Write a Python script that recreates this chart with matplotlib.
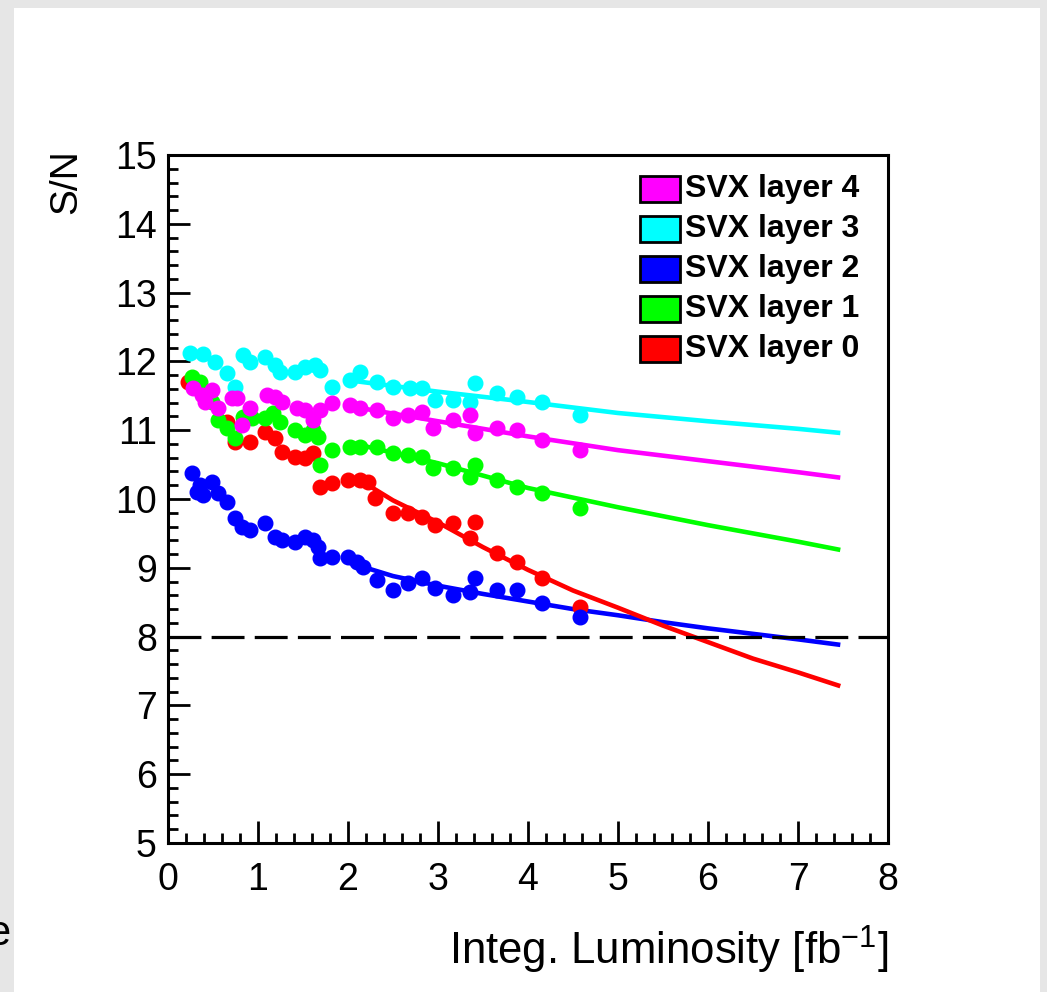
import matplotlib
matplotlib.use("Agg")
import matplotlib.pyplot as plt
from matplotlib.patches import Rectangle
from matplotlib.ticker import MultipleLocator

plt.rcParams['font.family'] = ['Liberation Sans', 'DejaVu Sans']

# ---- data ----
labels = ["SVX layer 4", "SVX layer 3", "SVX layer 2", "SVX layer 1", "SVX layer 0"]
colors = ["#ff00ff", "#00ffff", "#0000ff", "#00ff00", "#ff0000"]

l4_x = [0.28, 0.38, 0.41, 0.49, 0.56, 0.71, 0.77, 0.82, 0.91, 1.10, 1.19, 1.27, 1.43, 1.52, 1.61, 1.69,
        1.82, 2.02, 2.13, 2.32, 2.50, 2.67, 2.82, 2.94, 3.17, 3.36, 3.41, 3.66, 3.88, 4.16, 4.58]
l4_y = [11.61, 11.51, 11.41, 11.58, 11.32, 11.47, 11.47, 11.08, 11.32, 11.51, 11.48, 11.41, 11.32, 11.29,
        11.15, 11.29, 11.40, 11.37, 11.32, 11.29, 11.18, 11.22, 11.26, 11.03, 11.15, 11.22, 10.96, 11.03,
        11.00, 10.86, 10.71]

l3_x = [0.24, 0.39, 0.52, 0.66, 0.74, 0.83, 0.91, 1.08, 1.19, 1.24, 1.41, 1.52, 1.63, 1.69, 1.82, 2.02,
        2.13, 2.32, 2.50, 2.69, 2.82, 2.97, 3.17, 3.36, 3.41, 3.66, 3.88, 4.16, 4.58]
l3_y = [12.12, 12.11, 11.99, 11.83, 11.63, 12.09, 11.99, 12.06, 11.95, 11.85, 11.85, 11.92, 11.95, 11.87,
        11.63, 11.73, 11.85, 11.70, 11.63, 11.61, 11.61, 11.44, 11.44, 11.41, 11.69, 11.54, 11.48, 11.41,
        11.22]

l2_x = [0.27, 0.32, 0.36, 0.39, 0.49, 0.56, 0.66, 0.74, 0.82, 0.91, 1.08, 1.19, 1.27, 1.41, 1.52, 1.61,
        1.67, 1.69, 1.82, 2.00, 2.10, 2.17, 2.32, 2.50, 2.67, 2.82, 2.97, 3.17, 3.36, 3.41, 3.66, 3.88,
        4.16, 4.58]
l2_y = [10.38, 10.10, 10.20, 10.06, 10.25, 10.09, 9.96, 9.72, 9.59, 9.55, 9.65, 9.45, 9.40, 9.38, 9.45,
        9.40, 9.30, 9.14, 9.16, 9.16, 9.08, 9.01, 8.82, 8.68, 8.78, 8.85, 8.71, 8.60, 8.65, 8.85, 8.68,
        8.68, 8.49, 8.28]

l1_x = [0.27, 0.36, 0.49, 0.56, 0.66, 0.74, 0.83, 0.93, 1.08, 1.17, 1.24, 1.41, 1.52, 1.61, 1.67, 1.69,
        1.82, 2.02, 2.13, 2.32, 2.50, 2.67, 2.82, 2.94, 3.17, 3.36, 3.41, 3.66, 3.88, 4.16, 4.58]
l1_y = [11.77, 11.70, 11.41, 11.15, 11.03, 10.89, 11.19, 11.18, 11.18, 11.25, 11.12, 11.00, 10.93, 11.00,
        10.90, 10.49, 10.71, 10.76, 10.76, 10.76, 10.67, 10.64, 10.61, 10.45, 10.45, 10.32, 10.49, 10.28,
        10.17, 10.09, 9.87]

l0_x = [0.22, 0.45, 0.66, 0.74, 0.91, 1.08, 1.19, 1.27, 1.41, 1.52, 1.61, 1.69, 1.82, 2.00, 2.13, 2.22,
        2.30, 2.50, 2.67, 2.82, 2.97, 3.17, 3.36, 3.41, 3.66, 3.88, 4.16, 4.58]
l0_y = [11.70, 11.50, 11.12, 10.83, 10.83, 10.97, 10.89, 10.68, 10.61, 10.60, 10.67, 10.17, 10.23, 10.28,
        10.28, 10.25, 10.01, 9.80, 9.80, 9.74, 9.62, 9.65, 9.43, 9.67, 9.22, 9.08, 8.85, 8.43]

# fitted trend curves
f4_x = [2.10, 3.0, 4.0, 5.0, 6.0, 7.0, 7.47]
f4_y = [11.33, 11.13, 10.91, 10.71, 10.55, 10.39, 10.31]
f3_x = [2.10, 3.0, 4.0, 5.0, 6.0, 7.0, 7.47]
f3_y = [11.71, 11.56, 11.41, 11.25, 11.13, 11.02, 10.96]
f2_x = [2.00, 2.5, 3.0, 3.5, 4.0, 4.5, 5.0, 5.5, 6.0, 6.5, 7.0, 7.47]
f2_y = [9.08, 8.88, 8.74, 8.62, 8.51, 8.40, 8.31, 8.21, 8.12, 8.04, 7.96, 7.88]
f1_x = [2.05, 3.0, 4.0, 5.0, 6.0, 7.0, 7.47]
f1_y = [10.81, 10.52, 10.16, 9.88, 9.62, 9.38, 9.26]
f0_x = [2.05, 2.2, 2.5, 3.0, 3.5, 4.0, 4.5, 5.0, 5.5, 6.0, 6.5, 7.0, 7.47]
f0_y = [10.29, 10.22, 9.98, 9.66, 9.30, 8.97, 8.67, 8.42, 8.16, 7.92, 7.68, 7.48, 7.28]

threshold = 8.0

points = [(l4_x, l4_y), (l3_x, l3_y), (l2_x, l2_y), (l1_x, l1_y), (l0_x, l0_y)]
fits = [(f4_x, f4_y), (f3_x, f3_y), (f2_x, f2_y), (f1_x, f1_y), (f0_x, f0_y)]

# ---- figure ----
W, H = 1047, 992
fig = plt.figure(figsize=(W / 100, H / 100), dpi=100)
fig.patch.set_facecolor("#e6e6e6")
# white canvas
fig.patches.append(Rectangle((14 / W, 0), (1040 - 14) / W, 1 - 8 / H, transform=fig.transFigure,
                             facecolor="white", edgecolor="none", zorder=-10))

ax = fig.add_axes([168 / W, 1 - 843 / H, (888 - 168) / W, (843 - 155) / H], zorder=5)
ax.set_facecolor("white")
ax.set_xlim(0, 8)
ax.set_ylim(5, 15)

draw_order = [4, 2, 3, 0, 1]
for i in draw_order:
    px, py = points[i]
    fx, fy = fits[i]
    ax.plot(fx, fy, color=colors[i], lw=3.3, zorder=3 + i * 0.1, solid_capstyle="butt")
    ax.plot(px, py, "o", color=colors[i], ms=10.5, mec=colors[i], zorder=4 + (5 - i) * 0.1)

ax.axhline(threshold, color="black", lw=2.3, dashes=(10.3, 3.2), zorder=5)

# ticks ROOT style
ax.xaxis.set_major_locator(MultipleLocator(1))
ax.xaxis.set_minor_locator(MultipleLocator(0.2))
ax.yaxis.set_major_locator(MultipleLocator(1))
ax.yaxis.set_minor_locator(MultipleLocator(0.2))
ax.tick_params(which="both", direction="in", top=False, right=False, width=2.0, labelsize=27)
ax.tick_params(which="major", length=15.5)
ax.tick_params(which="minor", length=7.5)
ax.tick_params(axis="x", which="both", pad=14)
ax.tick_params(axis="y", which="both", pad=8)
for s in ax.spines.values():
    s.set_linewidth(2.2)

ax.set_xlabel("Integ. Luminosity [fb$^{\\mathregular{-1}}$]", fontsize=31.5, loc="right")
ax.xaxis.set_label_coords(1.0, -0.117)
ax.set_ylabel("S/N", fontsize=28, loc="top")
ax.yaxis.set_label_coords(-0.116, 1.008)

# legend drawn manually to match ROOT style
for k, (lab, col) in enumerate(zip(labels, colors)):
    yc = 189 + 40 * k
    ax.add_patch(Rectangle(((640 - 168) / 90, 15 - (yc + 13 - 155) / 68.8), 40 / 90, 26 / 68.8,
                           facecolor=col, edgecolor="black", lw=2.0, zorder=6))
    ax.text((685 - 168) / 90, 15 - (yc - 155) / 68.8, lab, fontsize=23, fontweight="bold",
            va="center", ha="left", zorder=6)

fig.text(-0.012, 0.047, "e", fontsize=30, color="black", va="baseline", zorder=10)

fig.savefig("out.png", dpi=100, facecolor=fig.get_facecolor())
